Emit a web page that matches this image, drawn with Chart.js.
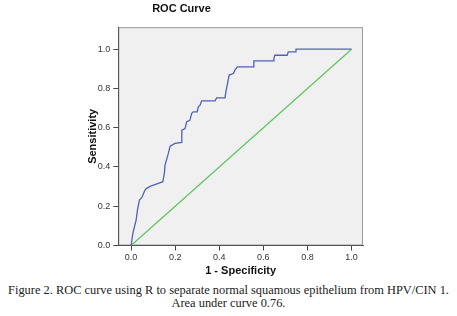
<!DOCTYPE html>
<html>
<head>
<meta charset="utf-8">
<script src="https://cdn.jsdelivr.net/npm/chart.js@4.4.1/dist/chart.umd.min.js"></script>
<style>
  body { margin: 0; background: #fff; }
  #wrap { position: relative; width: 457px; height: 316px; }
  #box { position: absolute; left: 0; top: 0; width: 457px; height: 280px; }
  #caption {
    position: absolute; left: 0; top: 284px; width: 457px;
    text-align: center; font-family: "Liberation Serif", serif;
    font-size: 12.4px; line-height: 13px; color: #222; white-space: nowrap;
  }
</style>
</head>
<body>
<div id="wrap">
  <div id="box"><canvas id="roc"></canvas></div>
  <div id="caption">Figure 2. ROC curve using R to separate normal squamous epithelium from HPV/CIN 1.<br>Area under curve 0.76.</div>
</div>
<script>
// ROC corners (1 - specificity, sensitivity)
const fpr = [0, 0.008, 0.014, 0.023, 0.029, 0.038, 0.049, 0.063, 0.071, 0.089, 0.124, 0.144,
  0.151, 0.154, 0.169, 0.177, 0.199, 0.230, 0.230, 0.245, 0.252, 0.267, 0.275, 0.282, 0.300,
  0.305, 0.313, 0.320, 0.381, 0.388, 0.426, 0.430, 0.436, 0.445, 0.464, 0.471, 0.482, 0.554,
  0.557, 0.645, 0.648, 0.652, 0.708, 0.713, 0.746, 0.748, 1.0];
const tpr = [0, 0.062, 0.089, 0.130, 0.181, 0.232, 0.245, 0.282, 0.291, 0.303, 0.317, 0.325,
  0.367, 0.410, 0.469, 0.506, 0.520, 0.525, 0.588, 0.596, 0.630, 0.639, 0.673, 0.681, 0.681,
  0.706, 0.715, 0.737, 0.737, 0.752, 0.752, 0.783, 0.817, 0.868, 0.876, 0.893, 0.910, 0.910,
  0.940, 0.940, 0.953, 0.969, 0.969, 0.986, 0.986, 1.0, 1.0];
const refX = [0, 1];
const refY = [0, 1];
const tickVals = [0, 0.2, 0.4, 0.6, 0.8, 1.0];

const font = "'Liberation Sans', Arial, sans-serif";

// plot background + frame
const frame = {
  id: 'frame',
  beforeDraw(chart) {
    const a = chart.chartArea, c = chart.ctx;
    c.save();
    c.fillStyle = '#f0f0f0';
    c.fillRect(a.left, a.top, a.right - a.left, a.bottom - a.top);
    c.strokeStyle = '#9a9a9a';
    c.lineWidth = 1;
    c.strokeRect(a.left + 0.5, a.top + 0.5, a.right - a.left - 1, a.bottom - a.top - 1);
    c.restore();
  }
};

const setTicks = s => { s.ticks = tickVals.map(v => ({ value: v })); };

new Chart(document.getElementById('roc'), {
  type: 'scatter',
  data: {
    datasets: [
      {
        data: fpr.map((x, i) => ({ x: x, y: tpr[i] })),
        showLine: true, borderColor: '#4d63b4', borderWidth: 1.3,
        pointRadius: 0, fill: false, tension: 0
      },
      {
        data: refX.map((x, i) => ({ x: x, y: refY[i] })),
        showLine: true, borderColor: '#5cc45c', borderWidth: 1.2,
        pointRadius: 0, fill: false
      }
    ]
  },
  plugins: [frame],
  options: {
    responsive: true,
    maintainAspectRatio: false,
    animation: false,
    layout: { padding: { right: 94, left: 0, top: 0, bottom: 0 } },
    plugins: {
      legend: { display: false },
      tooltip: { enabled: false },
      title: {
        display: true, text: 'ROC Curve', color: '#111',
        font: { family: font, size: 11, weight: 'bold' },
        padding: { top: 2, bottom: 12 }
      }
    },
    scales: {
      x: {
        type: 'linear', min: -0.058, max: 1.052,
        afterBuildTicks: setTicks,
        afterFit: s => { s.height = 34.5; },
        grid: { drawOnChartArea: false, drawTicks: true, tickLength: 5, tickColor: '#444' },
        border: { display: true, color: '#555', width: 1 },
        ticks: { color: '#333', font: { family: font, size: 9 }, padding: 2, maxRotation: 0,
                 callback: v => v.toFixed(1) },
        title: { display: true, text: '1 - Specificity', color: '#111',
                 font: { family: font, size: 11, weight: 'bold' }, padding: { top: 0, bottom: 2.4 } }
      },
      y: {
        type: 'linear', min: 0, max: 1.112,
        afterBuildTicks: setTicks,
        afterFit: s => { s.width = 118.3; },
        grid: { drawOnChartArea: false, drawTicks: true, tickLength: 5, tickColor: '#444' },
        border: { display: true, color: '#555', width: 1 },
        ticks: { color: '#333', font: { family: font, size: 9 }, padding: 3,
                 callback: v => v.toFixed(1) },
        title: { display: true, text: 'Sensitivity', color: '#111',
                 font: { family: font, size: 11, weight: 'bold' }, padding: { top: 86, bottom: 0 } }
      }
    }
  }
});
</script>
</body>
</html>
